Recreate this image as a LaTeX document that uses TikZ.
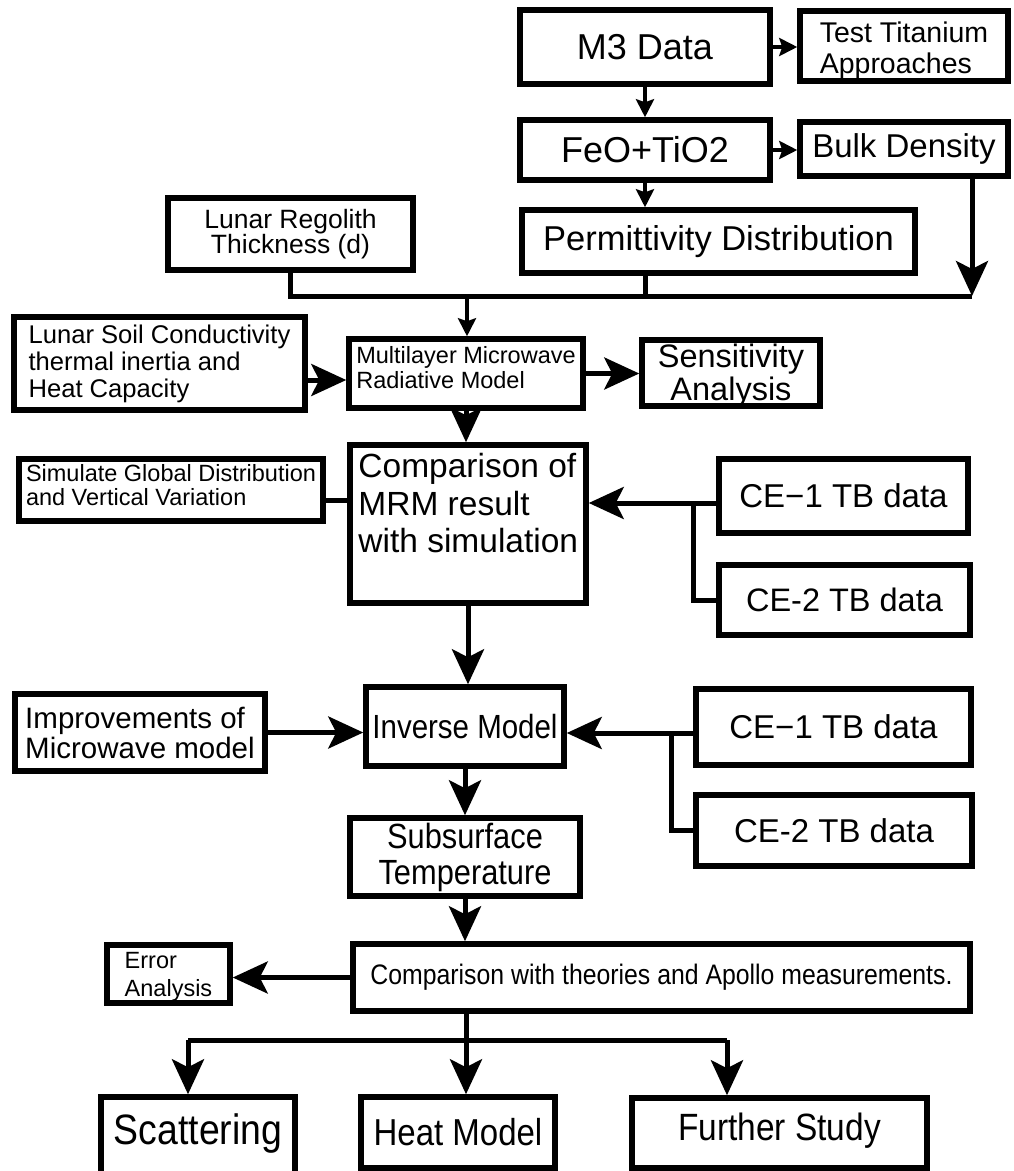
\documentclass[tikz,border=0pt]{standalone}
\usepackage{fontspec}
\setmainfont{Liberation Sans}
\newfontfamily\narrowf[FakeStretch=0.88]{Liberation Sans}
\usetikzlibrary{arrows.meta}
\newcommand\fsz[2]{\fontsize{#1pt}{#2pt}\selectfont}
\tikzset{
  box/.style={draw, line width=5.5pt, inner sep=0pt, align=center},
  lbox/.style={draw, line width=5.5pt, inner sep=0pt, align=left},
  txt/.style={inner sep=0pt, align=left},
  ctxt/.style={inner sep=0pt, align=center},
  thinarrow/.style={line width=4pt, -{Stealth[length=18pt,width=18pt,inset=3pt]}},
  bigarrow/.style={line width=5pt, -{Stealth[length=35pt,width=32pt,inset=8pt]}},
  wire/.style={line width=5pt},
}
\begin{document}
\begin{tikzpicture}[x=1pt,y=-1pt]
\useasboundingbox (0,0) rectangle (1013,1171);
% nodes
\node[box, minimum width=250pt, minimum height=74pt, font=\fsz{36}{40}] (m3) at (645,47) {M3 Data};
\node[lbox, minimum width=208pt, minimum height=70pt,
      label={[txt, font=\fsz{28.5}{31}, yshift=-5pt]center:{Test Titanium\\Approaches}}] (test) at (904,46) {};
\node[box, minimum width=250pt, minimum height=60pt, font=\fsz{36}{40}] (feo) at (645,150) {FeO+TiO2};
\node[box, minimum width=208pt, minimum height=54pt, font=\fsz{33}{36}] (bulk) at (904,149) {Bulk Density};
\node[box, minimum width=393pt, minimum height=63pt, font=\fsz{34.5}{38}] (perm) at (718.5,241.5) {Permittivity Distribution};
\node[box, minimum width=245pt, minimum height=72pt, font=\fsz{26.5}{25}] (regolith) at (290.5,234) {Lunar Regolith\\Thickness (d)};
\node[lbox, minimum width=291pt, minimum height=93pt, font=\fsz{25.6}{27}] (soil) at (159.5,363.5) {Lunar Soil Conductivity\\thermal inertia and\\Heat Capacity};
\node[lbox, minimum width=234pt, minimum height=69pt,
      label={[txt, font=\fsz{23.5}{25}, yshift=6pt]center:{Multilayer Microwave\\Radiative Model}}] (multi) at (466,373.5) {};
\node[box, minimum width=178pt, minimum height=66pt,
      label={[ctxt, font=\fsz{32.5}{33}, yshift=-3pt]center:{Sensitivity\\Analysis}}] (sens) at (731,373) {};
\node[box, minimum width=236pt, minimum height=158pt,
      label={[txt, font=\fsz{33.5}{37.5}, anchor=north west, xshift=11pt, yshift=-11pt]north west:{Comparison of\\MRM result\\with simulation}}] (comp1) at (468,524) {};
\node[lbox, minimum width=304pt, minimum height=62pt,
      label={[txt, font=\fsz{23.5}{24}, yshift=5pt]center:{Simulate Global Distribution\\and Vertical Variation}}] (sim) at (171,490) {};
\node[box, minimum width=249pt, minimum height=74pt, font=\fsz{33}{36}] (ce1a) at (843.5,496) {CE−1 TB data};
\node[box, minimum width=251pt, minimum height=70pt, font=\fsz{32.5}{36}] (ce2a) at (844.5,600) {CE-2 TB data};
\node[box, minimum width=198pt, minimum height=79pt, font=\narrowf\fsz{33.5}{36}] (inv) at (465,726.5) {Inverse Model};
\node[lbox, minimum width=250pt, minimum height=77pt, font=\fsz{29.5}{30}] (impr) at (140,732.5) {Improvements of\\Microwave model};
\node[box, minimum width=275pt, minimum height=76pt, font=\fsz{33}{36}] (ce1b) at (833.5,727) {CE−1 TB data};
\node[box, minimum width=276pt, minimum height=71pt, font=\fsz{33}{36}] (ce2b) at (834,830.5) {CE-2 TB data};
\node[box, minimum width=230pt, minimum height=78pt, font=\narrowf\fsz{35}{36}] (sub) at (465,857) {Subsurface\\Temperature};
\node[box, minimum width=617pt, minimum height=67pt, font=\narrowf\fsz{28.2}{30}] (comp2) at (661.5,977.5) {Comparison with theories and Apollo measurements.};
\node[lbox, minimum width=123pt, minimum height=58pt,
      label={[txt, font=\fsz{23.5}{28}, yshift=-3pt]center:{Error\\Analysis}}] (err) at (168.5,974) {};
\node[box, minimum width=194pt, minimum height=103pt,
      label={[ctxt, font=\narrowf\fsz{42.5}{44}, yshift=15pt]center:{Scattering}}] (scat) at (198,1148.5) {};
\node[box, minimum width=194pt, minimum height=71pt, font=\narrowf\fsz{37.5}{40}] (heat) at (458,1132.5) {Heat Model};
\node[box, minimum width=295pt, minimum height=70pt,
      label={[ctxt, font=\narrowf\fsz{38}{40}, yshift=2pt]center:{Further Study}}] (further) at (779.5,1133) {};
% helper coordinates
\coordinate (busR) at (972,296);
\coordinate (busM) at (467,296);
\coordinate (s380) at (0,380);
\coordinate (s500) at (0,500);
\coordinate (s503) at (0,503);
\coordinate (j1) at (693,503);
\coordinate (s733) at (0,733);
\coordinate (j2) at (671,733);
\coordinate (split) at (466,1040);
\coordinate (sl) at (188,1040);
\coordinate (sr) at (727,1040);
% connectors
\draw[thinarrow] (m3.east) -- (m3.east -| test.west);
\draw[thinarrow] (m3.south) -- (m3.south |- feo.north);
\draw[thinarrow] (feo.east) -- (feo.east -| bulk.west);
\draw[thinarrow] (feo.south) -- (feo.south |- perm.north);
\draw[wire] (regolith.south) |- (busR);
\draw[wire] (feo.south |- perm.south) -- (feo.south |- busR);
\draw[bigarrow] (bulk.south -| busR) -- (busR);
\draw[thinarrow] (busM) -- (busM |- multi.north);
\draw[bigarrow] (soil.east |- s380) -- (multi.west |- s380);
\draw[bigarrow] (multi.east) -- (multi.east -| sens.west);
\draw[bigarrow] (multi.south) -- (multi.south |- comp1.north);
\draw[wire] (sim.east |- s500) -- (comp1.west |- s500);
\draw[bigarrow] (ce1a.west |- s503) -- (comp1.east |- s503);
\draw[wire] (j1) |- (ce2a.west);
\draw[bigarrow] (comp1.south) -- (comp1.south |- inv.north);
\draw[bigarrow] (impr.east) -- (impr.east -| inv.west);
\draw[bigarrow] (ce1b.west |- s733) -- (inv.east |- s733);
\draw[wire] (j2) |- (ce2b.west);
\draw[bigarrow] (inv.south) -- (inv.south |- sub.north);
\draw[bigarrow] (sub.south) -- (sub.south |- comp2.north);
\draw[bigarrow] (comp2.west) -- (comp2.west -| err.east);
\draw[wire] (comp2.south -| split) -- (split);
\draw[wire] (sl) -- (sr);
\draw[bigarrow] (sl) -- (sl |- scat.north);
\draw[bigarrow] (split) -- (split |- heat.north);
\draw[bigarrow] (sr) -- (sr |- further.north);
\end{tikzpicture}
\end{document}
